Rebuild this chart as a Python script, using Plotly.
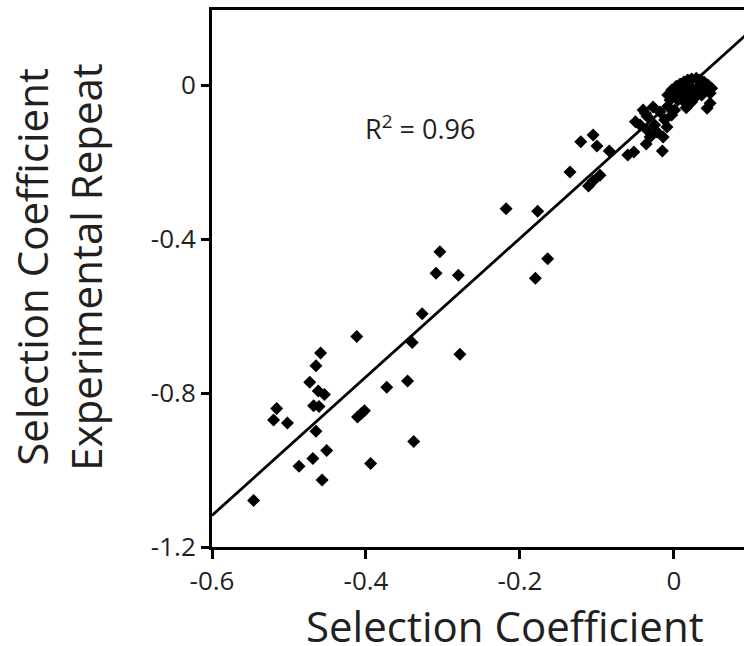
import plotly.graph_objects as go

# Selection coefficient (x) vs experimental repeat (y)
sel_coef = [
    -0.546, -0.516, -0.520, -0.502, -0.487, -0.473, -0.465, -0.459, -0.468, -0.461,
    -0.462, -0.454, -0.465, -0.469, -0.451, -0.457, -0.412, -0.411, -0.406, -0.402,
    -0.394, -0.373, -0.346, -0.340, -0.338, -0.327, -0.309, -0.304, -0.280, -0.278,
    -0.218, -0.177, -0.180, -0.164, -0.135,
    -0.121, -0.105, -0.100, -0.084, -0.111, -0.105, -0.096, -0.060, -0.052, -0.036,
    -0.015, -0.014, -0.044, -0.035, -0.035, -0.040, -0.027, -0.018, -0.012, -0.009,
    -0.022, -0.031, -0.025, -0.003, 0.001, -0.008, -0.037, -0.050, 0.047, 0.043,
    -0.008, -0.003, 0.003, 0.008, 0.013, 0.018, 0.023, 0.029, 0.034, 0.039,
    0.044, 0.049, -0.005, 0.001, 0.008, 0.016, 0.023, 0.031, 0.039, 0.047,
    0.005, 0.013, 0.021, 0.029, 0.036, 0.016, 0.023, 0.012, 0.016,
]
sel_coef_repeat = [
    -1.079, -0.840, -0.870, -0.878, -0.990, -0.772, -0.729, -0.696, -0.833, -0.835,
    -0.795, -0.804, -0.899, -0.970, -0.949, -1.026, -0.653, -0.862, -0.853, -0.846,
    -0.983, -0.785, -0.769, -0.669, -0.926, -0.594, -0.489, -0.433, -0.494, -0.699,
    -0.321, -0.328, -0.502, -0.451, -0.226,
    -0.147, -0.130, -0.158, -0.171, -0.262, -0.249, -0.234, -0.182, -0.174, -0.153,
    -0.171, -0.135, -0.104, -0.117, -0.081, -0.065, -0.057, -0.070, -0.091, -0.109,
    -0.122, -0.135, -0.104, -0.078, -0.065, -0.055, -0.073, -0.095, -0.047, -0.060,
    -0.026, -0.013, -0.003, 0.003, 0.008, 0.013, 0.016, 0.018, 0.013, 0.008,
    0.000, -0.008, -0.039, -0.029, -0.018, -0.013, -0.008, -0.005, -0.013, -0.021,
    -0.039, -0.029, -0.023, -0.029, -0.026, -0.042, -0.044, -0.041, -0.059,
]

# Linear fit
fit_slope = 1.80
fit_intercept = -0.038
r_squared = 0.96

x_range = [-0.6, 0.091]
y_range = [-1.2, 0.195]
x_ticks = [-0.6, -0.4, -0.2, 0]
x_tick_labels = ["-0.6", "-0.4", "-0.2", "0"]
y_ticks = [-1.2, -0.8, -0.4, 0]
y_tick_labels = ["-1.2", "-0.8", "-0.4", "0"]

INK = "#231f20"
FONT = "Open Sans"

fit_x = [x_range[0], x_range[1] + 0.05]
fit_y = [fit_slope * v + fit_intercept for v in fit_x]

fig = go.Figure()
fig.add_trace(go.Scatter(
    x=fit_x, y=fit_y, mode="lines",
    line=dict(color="black", width=2.8),
    hoverinfo="skip", showlegend=False,
))
fig.add_trace(go.Scatter(
    x=sel_coef, y=sel_coef_repeat, mode="markers",
    marker=dict(symbol="diamond", size=10, color="black", line=dict(width=0)),
    showlegend=False,
))

fig.update_layout(
    width=744, height=646,
    margin=dict(l=212, r=0, t=10, b=99),
    paper_bgcolor="white", plot_bgcolor="white",
    font=dict(family=FONT, color=INK),
    xaxis=dict(
        range=x_range, tickvals=x_ticks, ticktext=x_tick_labels,
        showgrid=False, zeroline=False,
        showline=True, linecolor="black", linewidth=3, mirror=True,
        ticks="outside", ticklen=9, tickwidth=3, tickcolor="black",
        tickfont=dict(size=26, family=FONT, color=INK),
    ),
    yaxis=dict(
        range=y_range, tickvals=y_ticks, ticktext=y_tick_labels,
        showgrid=False, zeroline=False,
        showline=True, linecolor="black", linewidth=3, mirror=False,
        ticks="outside", ticklen=8, tickwidth=3, tickcolor="black",
        tickfont=dict(size=26, family=FONT, color=INK),
    ),
    annotations=[
        dict(text="Selection Coefficient", xref="paper", yref="paper",
             x=0.551, y=-0.146, xanchor="center", yanchor="middle",
             showarrow=False, font=dict(size=42, family=FONT, color=INK)),
        dict(text="Selection Coefficient", xref="paper", yref="paper",
             x=(32 - 212) / 532, y=0.522, xanchor="center", yanchor="middle",
             textangle=-90, showarrow=False,
             font=dict(size=42, family=FONT, color=INK)),
        dict(text="Experimental Repeat", xref="paper", yref="paper",
             x=(86 - 212) / 532, y=0.522, xanchor="center", yanchor="middle",
             textangle=-90, showarrow=False,
             font=dict(size=42, family=FONT, color=INK)),
        dict(text=f"R<sup>2</sup> = {r_squared:.2f}", xref="x", yref="y",
             x=-0.330, y=-0.109, xanchor="center", yanchor="middle",
             showarrow=False, font=dict(size=27, family=FONT, color=INK)),
    ],
)

fig.write_html("out.html")
